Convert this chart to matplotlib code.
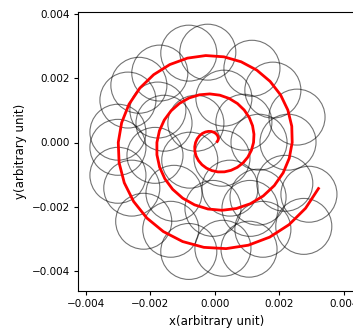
import numpy as np
import matplotlib
matplotlib.use("Agg")
import matplotlib.pyplot as plt
from matplotlib.patches import Circle

# spiral: angle (deg) and radius (x1e-3)
theta_deg = [24, 36, 48, 60, 72, 84, 96, 108, 120, 132, 144, 156, 168, 180, 192, 204,
             216, 228, 240, 252, 264, 276, 288, 300, 312, 324, 336, 348, 360, 372, 384,
             396, 408, 420, 432, 444, 456, 468, 480, 492, 504, 516, 528, 540, 552, 564,
             576, 588, 600, 612, 624, 636, 648, 660, 672, 684, 696, 708, 720, 732, 744,
             756, 768, 780, 792, 804, 816, 828, 840, 852, 864, 876, 888, 900, 912, 924,
             936, 948, 960, 972, 984, 996, 1008, 1020, 1032, 1044, 1056]
radius = [0.08, 0.12, 0.16, 0.20, 0.24, 0.28, 0.32, 0.36, 0.40, 0.44, 0.48, 0.52, 0.56,
          0.60, 0.64, 0.68, 0.72, 0.76, 0.80, 0.84, 0.88, 0.92, 0.96, 1.00, 1.04, 1.08,
          1.12, 1.16, 1.20, 1.24, 1.28, 1.32, 1.36, 1.40, 1.44, 1.48, 1.52, 1.56, 1.60,
          1.64, 1.68, 1.72, 1.76, 1.80, 1.84, 1.88, 1.92, 1.96, 2.00, 2.04, 2.08, 2.12,
          2.16, 2.20, 2.24, 2.28, 2.32, 2.36, 2.40, 2.44, 2.48, 2.52, 2.56, 2.60, 2.64,
          2.68, 2.72, 2.76, 2.80, 2.84, 2.88, 2.92, 2.96, 3.00, 3.04, 3.08, 3.12, 3.16,
          3.20, 3.24, 3.28, 3.32, 3.36, 3.40, 3.44, 3.48, 3.52]

# circle centres (x1e-3)
circ_x = [-0.81, -0.22, 1.15, 1.80, 2.55, 2.27, 2.92, 2.76, 1.49, 1.06, 0.25, -0.81,
          -1.37, -2.21, -3.01, -2.58, -3.01, -3.01, -2.70, -2.36, -1.71, -1.77, -1.58,
          -1.27, 0.90, 0.28, 1.37, 1.34, 2.17, -0.59, 0.22, -0.06, 0.47, 1.09, -0.78, -1.86]
circ_y = [2.78, 2.81, 2.31, 1.63, 0.79, 0.01, -1.61, -2.61, -2.70, -3.32, -3.29, -3.39,
          -2.70, -2.45, -1.02, -1.42, -0.15, 0.32, 1.32, 1.78, 2.16, 1.01, 0.60,
          -1.58, 0.63, 1.38, 0.01, -1.70, -1.27, 0.60, -0.49, -2.05, -1.42, -2.05, -0.55, -0.40]
circ_r = 0.87

scale = 1e-3
th = np.radians(theta_deg)
xs = np.array(radius) * np.cos(th) * scale
ys = np.array(radius) * np.sin(th) * scale

fig = plt.figure(figsize=(3.53, 3.29), dpi=100)
ax = fig.add_axes([78 / 353, 38 / 329, 277 / 353, 279 / 329])

for cx, cy in zip(circ_x, circ_y):
    ax.add_patch(Circle((cx * scale, cy * scale), circ_r * scale, fill=False,
                        edgecolor="k", alpha=0.55, lw=0.8))

ax.plot(xs, ys, color="red", lw=2)

ax.set_xlim(-0.00425, 0.00435)
ax.set_ylim(-0.00462, 0.00406)
ax.set_xticks([-0.004, -0.002, 0.0, 0.002, 0.004])
ax.set_yticks([-0.004, -0.002, 0.0, 0.002, 0.004])
ax.set_xticklabels(["\u22120.004", "\u22120.002", "0.000", "0.002", "0.004"])
ax.set_yticklabels(["\u22120.004", "\u22120.002", "0.000", "0.002", "0.004"])
ax.tick_params(labelsize=7.5, length=3, pad=3)
ax.set_xlabel("x(arbitrary unit)", fontsize=8.5)
ax.set_ylabel("y(arbitrary unit)", fontsize=8.5)
ax.xaxis.set_label_coords(0.5, -0.086)
ax.yaxis.set_label_coords(-0.184, 0.5)

fig.savefig("out.png", dpi=100)
